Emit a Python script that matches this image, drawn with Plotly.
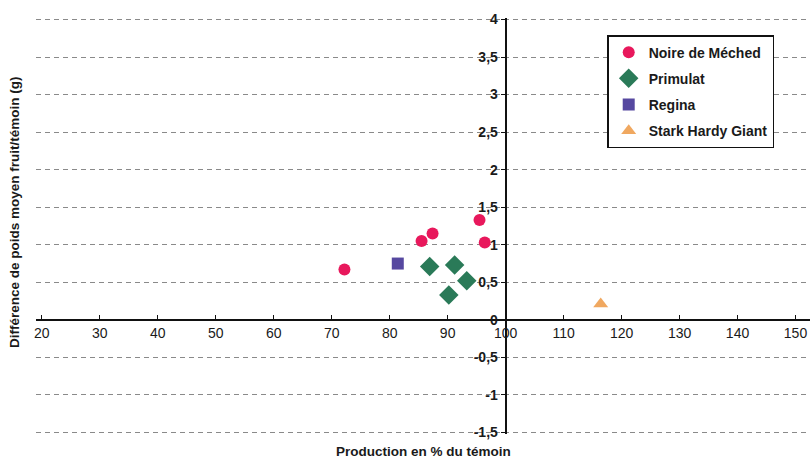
import plotly.graph_objects as go

# Data
noire_x = [72.2, 85.5, 87.4, 95.5, 96.4]
noire_y = [0.67, 1.05, 1.15, 1.33, 1.03]
primulat_x = [86.9, 91.2, 90.2, 93.3]
primulat_y = [0.71, 0.73, 0.33, 0.52]
regina_x = [81.4]
regina_y = [0.75]
stark_x = [116.4]
stark_y = [0.21]

x_ticks = [20, 30, 40, 50, 60, 70, 80, 90, 100, 110, 120, 130, 140, 150]
y_ticks = [-1.5, -1, -0.5, 0, 0.5, 1, 1.5, 2, 2.5, 3, 3.5, 4]
y_tick_labels = ["-1,5", "-1", "-0,5", "0", "0,5", "1", "1,5", "2", "2,5", "3", "3,5", "4"]

x_range = [19, 152.5]
y_range = [-1.52, 4.02]
x_cross = 100  # y-axis drawn at x = 100
y_cross = 0    # x-axis drawn at y = 0

FONT = "Liberation Sans Narrow, Arial Narrow, Liberation Sans, Arial, sans-serif"

fig = go.Figure()
fig.add_trace(go.Scatter(x=noire_x, y=noire_y, mode="markers", name="<b>Noire de Méched</b>",
                         legendgroup="a",
                         marker=dict(symbol="circle", size=12, color="#e8185c")))
fig.add_trace(go.Scatter(x=primulat_x, y=primulat_y, mode="markers", name="<b>Primulat</b>",
                         legendgroup="b",
                         marker=dict(symbol="diamond", size=15, color="#2a7a58")))
fig.add_trace(go.Scatter(x=regina_x, y=regina_y, mode="markers", name="<b>Regina</b>",
                         legendgroup="c",
                         marker=dict(symbol="square", size=12, color="#5648a0")))
fig.add_trace(go.Scatter(x=stark_x, y=stark_y, mode="markers", name="<b>Stark Hardy Giant</b>",
                         legendgroup="d",
                         marker=dict(symbol="triangle-up", size=13, color="#f0a860")))

ypos = (y_cross - y_range[0]) / (y_range[1] - y_range[0])
xpos = (x_cross - x_range[0]) / (x_range[1] - x_range[0])

fig.update_layout(
    width=810, height=464,
    margin=dict(l=36, r=0, t=18, b=30, autoexpand=False),
    paper_bgcolor="white", plot_bgcolor="white",
    font=dict(family=FONT, size=13, color="#1a1a1a"),
    showlegend=True,
    legend=dict(x=0.738, y=0.959, xanchor="left", yanchor="top",
                bgcolor="white", bordercolor="#111", borderwidth=1.5,
                font=dict(family=FONT, size=14, color="#1a1a1a"),
                tracegroupgap=5),
    xaxis=dict(range=x_range, tickvals=x_ticks, showgrid=False, zeroline=False,
               anchor="free", position=ypos, automargin=False,
               showline=True, linecolor="#111", linewidth=2,
               ticks="inside", ticklen=4, tickcolor="#111",
               tickfont=dict(size=14)),
    yaxis=dict(range=y_range, tickvals=y_ticks, ticktext=["<b>%s</b>" % t for t in y_tick_labels],
               zeroline=False, anchor="free", position=xpos, automargin=False,
               showline=True, linecolor="#111", linewidth=2,
               ticks="outside", ticklen=4, tickcolor="#111",
               showgrid=True, gridcolor="#8a8a8a", gridwidth=1, griddash="5px,4px",
               tickfont=dict(size=14)),
    annotations=[
        dict(text="<b>Différence de poids moyen fruit/témoin (g)</b>", textangle=-90,
             xref="paper", yref="paper", x=-0.027, y=0.534, xanchor="center", yanchor="middle",
             showarrow=False, font=dict(family=FONT, size=13.5, color="#1a1a1a")),
        dict(text="<b>Production en % du témoin</b>",
             xref="paper", yref="paper", x=0.5, y=-0.043, xanchor="center", yanchor="middle",
             showarrow=False, font=dict(family=FONT, size=13.5, color="#1a1a1a")),
    ],
)

fig.write_html("out.html", config={"displayModeBar": False},
               post_script="document.body.style.margin='0px';")
